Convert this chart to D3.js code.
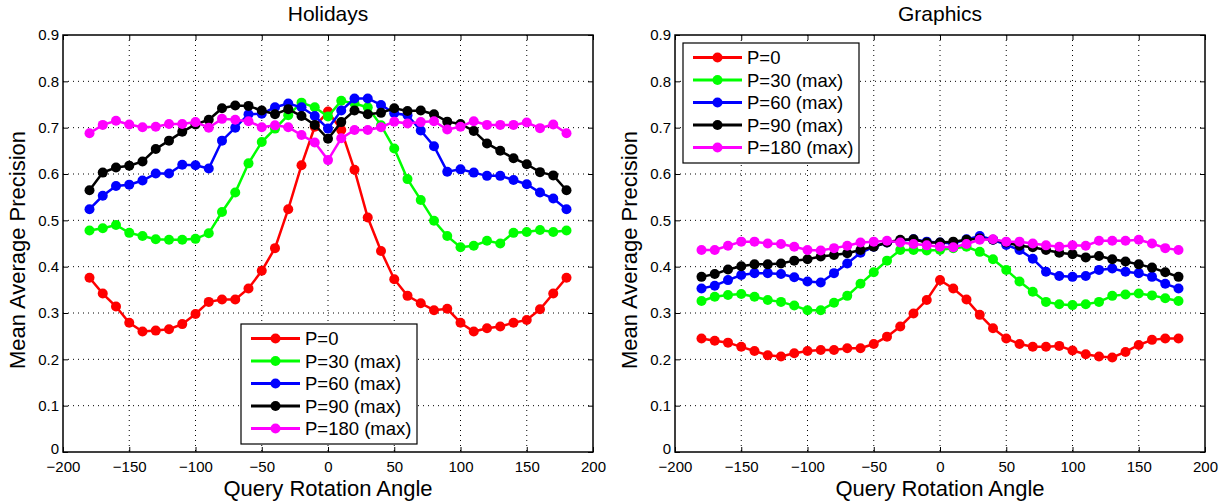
<!DOCTYPE html>
<html>
<head>
<meta charset="utf-8">
<script src="https://cdn.jsdelivr.net/npm/d3@7"></script>
<style>
  body { margin: 0; background: #fff; }
  svg text { font-family: "Liberation Sans", Arial, sans-serif; fill: #000; }
</style>
</head>
<body>
<script>
var width = 1226,
    height = 501;

var angles = d3.range(-180, 181, 10);

var seriesNames = ['P=0', 'P=30 (max)', 'P=60 (max)', 'P=90 (max)', 'P=180 (max)'];
var seriesColors = ['#ff0000', '#00ff00', '#0000ff', '#000000', '#ff00ff'];

var xTicks = [-200, -150, -100, -50, 0, 50, 100, 150, 200];
var yTicks = [0, 0.1, 0.2, 0.3, 0.4, 0.5, 0.6, 0.7, 0.8, 0.9];

// Holidays
var holP0 = [0.376, 0.342, 0.314, 0.279, 0.260, 0.262, 0.265, 0.276, 0.298, 0.324, 0.329, 0.329, 0.353, 0.391, 0.440, 0.524, 0.619, 0.702, 0.735,
             0.695, 0.609, 0.506, 0.434, 0.373, 0.337, 0.321, 0.306, 0.309, 0.279, 0.260, 0.267, 0.271, 0.279, 0.285, 0.308, 0.342, 0.376];
var holP30 = [0.478, 0.483, 0.490, 0.473, 0.466, 0.459, 0.458, 0.458, 0.460, 0.472, 0.518, 0.560, 0.623, 0.669, 0.698, 0.727, 0.754, 0.744, 0.724,
              0.758, 0.752, 0.744, 0.705, 0.655, 0.589, 0.544, 0.499, 0.466, 0.442, 0.445, 0.456, 0.450, 0.473, 0.475, 0.479, 0.475, 0.478];
var holP60 = [0.524, 0.553, 0.574, 0.577, 0.586, 0.601, 0.601, 0.620, 0.619, 0.612, 0.672, 0.700, 0.729, 0.730, 0.744, 0.752, 0.744, 0.725, 0.698,
              0.737, 0.763, 0.763, 0.749, 0.731, 0.727, 0.694, 0.660, 0.605, 0.610, 0.603, 0.596, 0.596, 0.587, 0.578, 0.560, 0.547, 0.524];
var holP90 = [0.565, 0.603, 0.614, 0.618, 0.627, 0.654, 0.672, 0.691, 0.707, 0.717, 0.742, 0.748, 0.747, 0.737, 0.729, 0.740, 0.725, 0.706, 0.676,
              0.712, 0.737, 0.729, 0.732, 0.742, 0.736, 0.737, 0.729, 0.713, 0.708, 0.693, 0.666, 0.650, 0.634, 0.621, 0.604, 0.597, 0.565];
var holP180 = [0.688, 0.706, 0.715, 0.707, 0.701, 0.702, 0.708, 0.708, 0.712, 0.700, 0.719, 0.717, 0.714, 0.701, 0.705, 0.701, 0.684, 0.668, 0.630,
               0.677, 0.695, 0.695, 0.701, 0.713, 0.709, 0.712, 0.714, 0.696, 0.702, 0.714, 0.706, 0.706, 0.706, 0.711, 0.699, 0.707, 0.688];

// Graphics
var graP0 = [0.245, 0.240, 0.236, 0.227, 0.218, 0.209, 0.206, 0.213, 0.218, 0.220, 0.220, 0.224, 0.224, 0.233, 0.249, 0.271, 0.299, 0.328, 0.371,
             0.353, 0.329, 0.296, 0.267, 0.245, 0.233, 0.227, 0.227, 0.229, 0.219, 0.211, 0.206, 0.204, 0.216, 0.231, 0.242, 0.245, 0.245];
var graP30 = [0.326, 0.335, 0.339, 0.341, 0.335, 0.328, 0.324, 0.316, 0.306, 0.306, 0.322, 0.337, 0.363, 0.388, 0.413, 0.436, 0.436, 0.435, 0.436,
              0.440, 0.443, 0.432, 0.416, 0.393, 0.368, 0.346, 0.324, 0.319, 0.317, 0.319, 0.324, 0.337, 0.340, 0.342, 0.338, 0.332, 0.326];
var graP60 = [0.353, 0.359, 0.371, 0.382, 0.386, 0.386, 0.384, 0.377, 0.368, 0.366, 0.386, 0.407, 0.430, 0.443, 0.452, 0.456, 0.459, 0.454, 0.452,
              0.450, 0.459, 0.466, 0.458, 0.447, 0.436, 0.417, 0.389, 0.380, 0.378, 0.380, 0.393, 0.396, 0.389, 0.386, 0.378, 0.363, 0.353];
var graP90 = [0.378, 0.384, 0.394, 0.401, 0.405, 0.405, 0.407, 0.413, 0.416, 0.422, 0.425, 0.429, 0.436, 0.443, 0.452, 0.458, 0.459, 0.452, 0.452,
              0.454, 0.458, 0.461, 0.458, 0.452, 0.445, 0.442, 0.436, 0.430, 0.427, 0.420, 0.423, 0.416, 0.411, 0.405, 0.398, 0.388, 0.378];
var graP180 = [0.436, 0.436, 0.445, 0.454, 0.454, 0.450, 0.449, 0.443, 0.436, 0.435, 0.440, 0.445, 0.452, 0.454, 0.456, 0.452, 0.449, 0.446, 0.443,
               0.442, 0.449, 0.458, 0.459, 0.454, 0.454, 0.450, 0.446, 0.443, 0.446, 0.445, 0.456, 0.456, 0.456, 0.458, 0.450, 0.440, 0.436];

var panels = [
  { title: 'Holidays', left: 63, series: [holP0, holP30, holP60, holP90, holP180], legend: { x: 241, y: 324 } },
  { title: 'Graphics', left: 675, series: [graP0, graP30, graP60, graP90, graP180], legend: { x: 683, y: 43 } }
];

var plotW = 530, plotTop = 35, plotH = 417;

var svg = d3.select('body')
      .append('svg')
      .attr('width', width)
      .attr('height', height);

panels.forEach(function(p) {
  var g = svg.append('g')
    .attr('transform', 'translate(' + p.left + ',' + plotTop + ')');

  var xScale = d3.scaleLinear().domain([-200, 200]).range([0, plotW]);
  var yScale = d3.scaleLinear().domain([0, 0.9]).range([plotH, 0]);

  // dotted grid
  g.append('g')
    .selectAll('line')
    .data(xTicks.slice(1, -1))
    .enter()
    .append('line')
    .attr('x1', d => xScale(d)).attr('x2', d => xScale(d))
    .attr('y1', 0).attr('y2', plotH)
    .attr('stroke', '#000').attr('stroke-width', 1)
    .attr('stroke-dasharray', '1,4');
  g.append('g')
    .selectAll('line')
    .data(yTicks.slice(1, -1))
    .enter()
    .append('line')
    .attr('y1', d => yScale(d)).attr('y2', d => yScale(d))
    .attr('x1', 0).attr('x2', plotW)
    .attr('stroke', '#000').attr('stroke-width', 1)
    .attr('stroke-dasharray', '1,4');

  // axes, ticks inside
  var xAxis = d3.axisBottom(xScale).tickValues(xTicks).tickSizeInner(-5).tickSizeOuter(0).tickPadding(9)
    .tickFormat(d => d < 0 ? '\u2212' + Math.abs(d) : d);
  var gx = g.append('g').attr('transform', 'translate(0,' + plotH + ')').call(xAxis);
  gx.select('.domain').remove();
  gx.selectAll('text').style('font-size', '15px');

  var yAxis = d3.axisLeft(yScale).tickValues(yTicks).tickSizeInner(-5).tickSizeOuter(0).tickPadding(4)
    .tickFormat(d => d === 0 ? '0' : d3.format('.1f')(d));
  var gy = g.append('g').call(yAxis);
  gy.select('.domain').remove();
  gy.selectAll('text').style('font-size', '15px');
  // lift the "0" a little so it clears the x labels
  gy.selectAll('text').filter(d => d === 0).attr('dy', '0.1em');

  var gyr = g.append('g').attr('transform', 'translate(' + plotW + ',0)')
    .call(d3.axisRight(yScale).tickValues(yTicks).tickSizeInner(-5).tickSizeOuter(0).tickFormat(''));
  gyr.select('.domain').remove();
  var gxt = g.append('g')
    .call(d3.axisTop(xScale).tickValues(xTicks).tickSizeInner(-5).tickSizeOuter(0).tickFormat(''));
  gxt.select('.domain').remove();

  g.append('rect')
    .attr('width', plotW).attr('height', plotH)
    .attr('fill', 'none').attr('stroke', '#000').attr('stroke-width', 1.5);

  // lines
  var line = d3.line()
    .x((d, i) => xScale(angles[i]))
    .y(d => yScale(d));

  p.series.forEach(function(vals, k) {
    g.append('path')
      .datum(vals)
      .attr('d', line)
      .attr('fill', 'none')
      .attr('stroke', seriesColors[k])
      .attr('stroke-width', 2.5);
    g.selectAll('.dot' + k)
      .data(vals)
      .enter()
      .append('circle')
      .attr('class', 'dot' + k)
      .attr('cx', (d, i) => xScale(angles[i]))
      .attr('cy', d => yScale(d))
      .attr('r', 5)
      .style('fill', seriesColors[k]);
  });

  // title & labels
  svg.append('text')
    .attr('x', p.left + plotW / 2)
    .attr('y', 21)
    .attr('text-anchor', 'middle')
    .style('font-size', '21px')
    .text(p.title);
  svg.append('text')
    .attr('x', p.left + plotW / 2)
    .attr('y', 496)
    .attr('text-anchor', 'middle')
    .style('font-size', '22px')
    .text('Query Rotation Angle');
  svg.append('text')
    .attr('transform', 'translate(' + (p.left - 38) + ',' + 250 + ') rotate(-90)')
    .attr('text-anchor', 'middle')
    .style('font-size', '22px')
    .text('Mean Average Precision');

  // legend
  var lg = svg.append('g').attr('transform', 'translate(' + p.legend.x + ',' + p.legend.y + ')');
  lg.append('rect')
    .attr('width', 176).attr('height', 120)
    .attr('fill', '#fff').attr('stroke', '#000').attr('stroke-width', 1.2);
  seriesNames.forEach(function(name, k) {
    var yy = 14.5 + k * 22.5;
    lg.append('line')
      .attr('x1', 10).attr('x2', 59).attr('y1', yy).attr('y2', yy)
      .attr('stroke', seriesColors[k]).attr('stroke-width', 3);
    lg.append('circle')
      .attr('cx', 34.5).attr('cy', yy).attr('r', 5)
      .style('fill', seriesColors[k]);
    lg.append('text')
      .attr('x', 64).attr('y', yy + 6.5)
      .style('font-size', '18.5px')
      .text(name);
  });
});
</script>
</body>
</html>
